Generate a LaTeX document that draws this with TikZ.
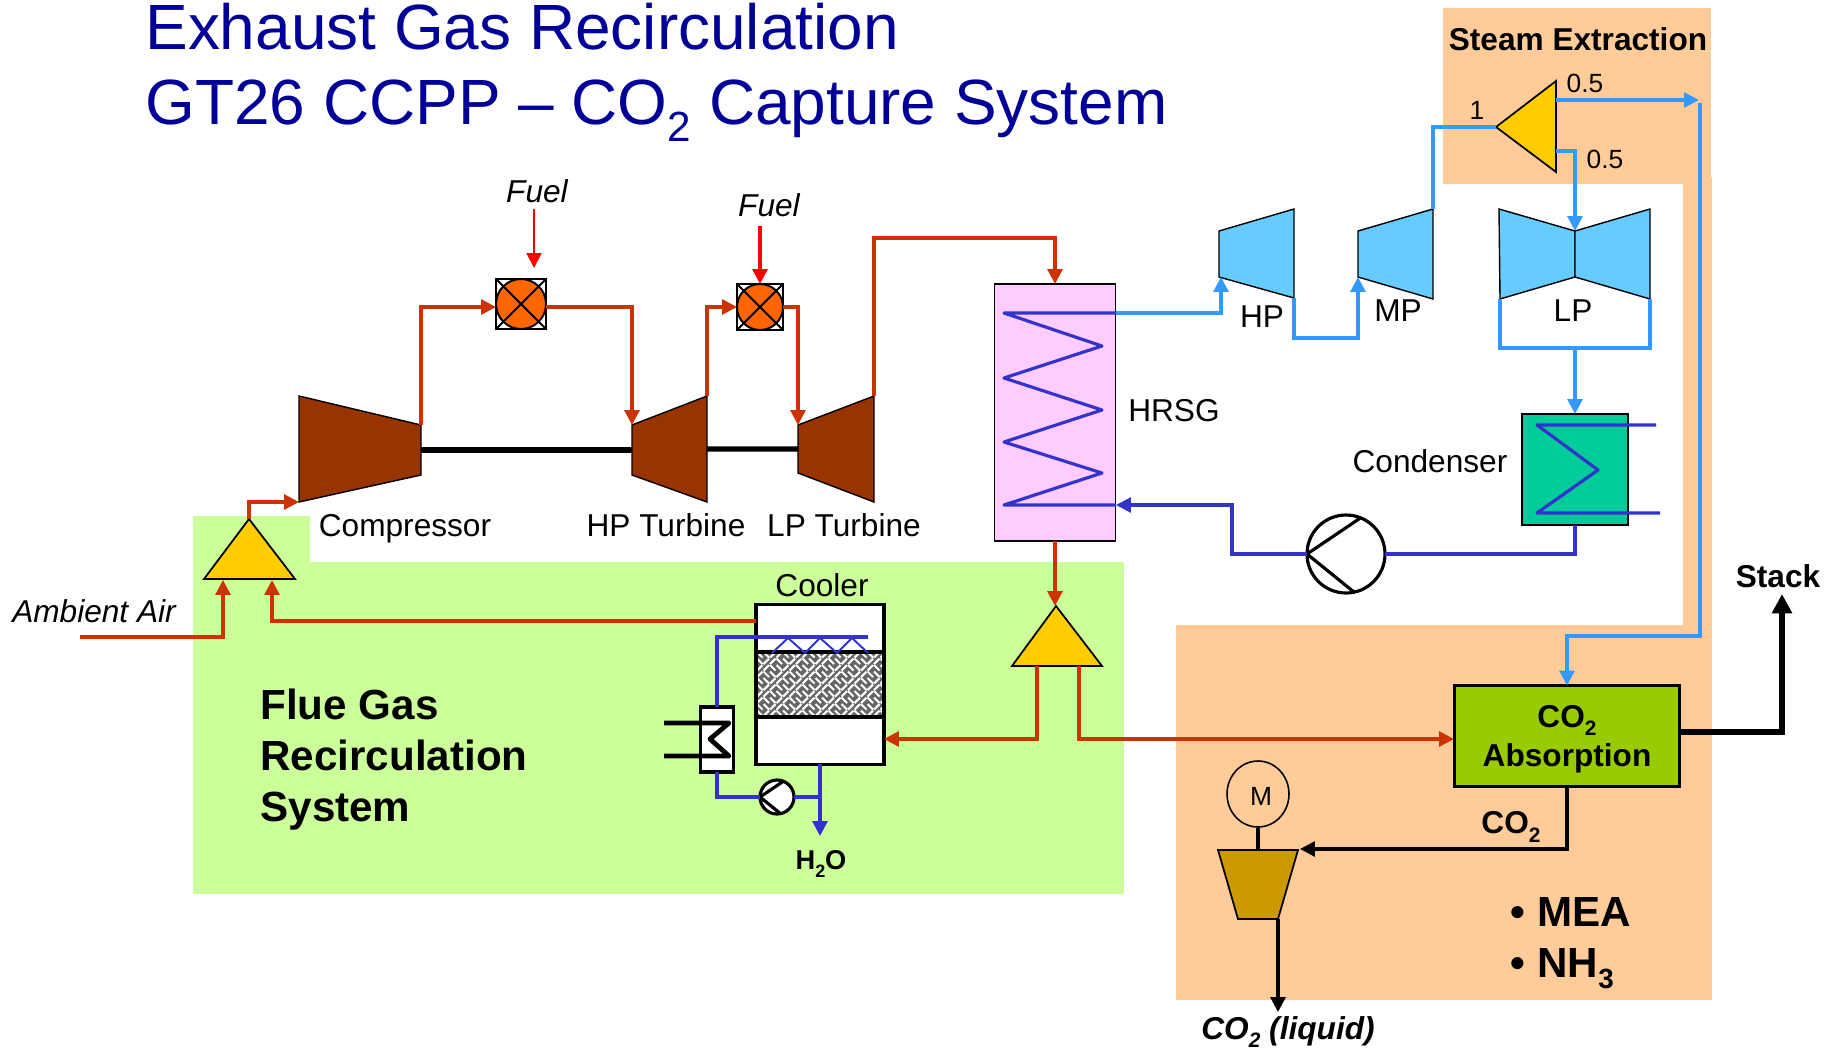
\documentclass[tikz,border=0pt]{standalone}
\usepackage{fontspec}
\setmainfont{Liberation Sans}
\usetikzlibrary{calc,arrows.meta,shapes.geometric}
\definecolor{gasred}{HTML}{CC3300}
\definecolor{steamblue}{HTML}{3399FF}
\definecolor{waterblue}{HTML}{3333CC}
\definecolor{bandorange}{HTML}{FFCC99}
\definecolor{bandgreen}{HTML}{CCFF99}
\definecolor{turbbrown}{HTML}{993300}
\definecolor{turbblue}{HTML}{66CCFF}
\definecolor{teeyellow}{HTML}{FFCC00}
\definecolor{burnorange}{HTML}{FF6600}
\definecolor{titleblue}{HTML}{000099}
\definecolor{boilerpink}{HTML}{FFCCFF}
\definecolor{condgreen}{HTML}{00CC99}
\definecolor{absgreen}{HTML}{99CC00}
\definecolor{pumpbrown}{HTML}{CC9900}
\tikzset{
  >={Triangle[length=8.5pt,width=8.5pt]},
  gas/.style={draw=gasred,line width=1.8pt},
  steam/.style={draw=steamblue,line width=1.8pt},
  water/.style={draw=waterblue,line width=1.8pt},
  fuelline/.style={draw=red,line width=#1},
  blackline/.style={draw=black,line width=#1},
  gasturb/.style={draw=black,line width=.8pt,fill=turbbrown},
  steamturb/.style={draw=black,line width=.8pt,fill=turbblue},
  teejoin/.style={draw=black,line width=1pt,fill=teeyellow},
  burner/.style={draw=black,line width=1.1pt,fill=white,inner sep=0pt,outer sep=0pt,minimum size=#1,
    path picture={
      \fill[burnorange] (path picture bounding box.center) circle (#1/2);
      \draw[line width=1.1pt] (path picture bounding box.center) circle (#1/2);
      \draw[line width=1.1pt] (path picture bounding box.north west) -- (path picture bounding box.south east);
      \draw[line width=1.1pt] (path picture bounding box.north east) -- (path picture bounding box.south west);}},
  pumpbody/.style={circle,draw=black,fill=white,inner sep=0pt,outer sep=0pt,minimum size=#1},
  vessel/.style={draw=black,inner sep=0pt,outer sep=0pt,align=center},
  lab/.style={inner sep=0pt,font=\fontsize{18}{21}\selectfont},
  labb/.style={inner sep=0pt,align=left,font=\bfseries\fontsize{18}{22}\selectfont},
  labi/.style={inner sep=0pt,font=\itshape\fontsize{18}{21}\selectfont},
  small/.style={inner sep=0pt,font=\fontsize{15}{18}\selectfont},
  big/.style={inner sep=0pt,align=left,font=\bfseries\fontsize{24}{29.2}\selectfont},
  headline/.style={inner sep=0pt,anchor=base west,text=titleblue,font=\fontsize{36.4}{42}\selectfont},
}
\newcommand\dn[1]{\raisebox{-.27em}{\scalebox{.66}{#1}}}
% four corner machine: [draw options] (a)(b)(c)(d){name}
\def\machine[#1](#2)(#3)(#4)(#5)#6{
  \draw[#1] (#2) coordinate (#6a) -- (#3) coordinate (#6b) -- (#4) coordinate (#6c) -- (#5) coordinate (#6d) -- cycle; }
\def\tee(#1)(#2)(#3)#4{
  \draw[teejoin] (#1) coordinate (#4a) -- (#2) coordinate (#4b) -- (#3) coordinate (#4c) -- cycle; }
\begin{document}
\begin{tikzpicture}[x=0.02cm,y=-0.02cm]
\useasboundingbox (0,0) rectangle (1839,1049);

% backgrounds
\fill[bandgreen] (193,562) rectangle (1124,894);
\fill[bandgreen] (193,516) rectangle (310,562);
\fill[bandorange] (1443,8) rectangle (1711,184);
\fill[bandorange] (1683,177) rectangle (1712,625);
\fill[bandorange] (1176,625) rectangle (1712,1000);

\node[headline] (titleA) at (145,49) {Exhaust Gas Recirculation};
\node[headline] (titleB) at (145,124) {GT26 CCPP -- CO\dn{2} Capture System};

% gas turbine
\machine[gasturb](299,396)(421,425)(421,475)(299,502){comp}
\machine[gasturb](632,425)(707,396)(707,502)(632,475){hpt}
\machine[gasturb](798,425)(874,396)(874,502)(798,473){lpt}
\draw[blackline=3pt] ($(compb)!.5!(compc)$) -- ($(hpta)!.5!(hptd)$);
\draw[blackline=3pt] ($(hptb)!.5!(hptc)$) -- ($(lpta)!.5!(lptd)$);
\node[burner=1cm] (burnerA) at (521,304) {};
\node[burner=.92cm] (burnerB) at (760,307) {};

\node[lab] (compLab) at (405,529) {Compressor};
\node[lab] (hptLab) at (666,525) {HP Turbine};
\node[lab] (lptLab) at (844,525) {LP Turbine};
\node[labi] (fuelA) at (537,191) {Fuel};
\node[labi] (fuelB) at (769,205) {Fuel};
\node[labi] (airLab) at (94,611) {Ambient Air};

% boiler and steam part
\node[vessel,line width=1pt,fill=boilerpink,minimum width=2.42cm,minimum height=5.14cm] (hrsg) at (1055,412.5) {};
\node[lab] (hrsgLab) at (1174,411) {HRSG};
\machine[steamturb](1219,231)(1294,209)(1294,298)(1219,277){hp}
\machine[steamturb](1358,231)(1433,209)(1433,299)(1358,277){mp}
\machine[steamturb](1499,209)(1575,231)(1575,277)(1500,299){lpl}
\machine[steamturb](1650,209)(1575,231)(1575,277)(1650,299){lpr}
\node[lab] (hpLab) at (1262,317) {HP};
\node[lab] (mpLab) at (1398,311) {MP};
\node[lab] (lpLab) at (1573,311) {LP};
\tee(1496,127)(1556,81)(1556,172){split}
\node[labb] (steamLab) at (1578,39) {Steam Extraction};
\node[small] (splitIn) at (1477,110) {1};
\node[small] (splitUp) at (1585,83) {0.5};
\node[small] (splitDn) at (1605,159) {0.5};
\node[vessel,line width=1.2pt,fill=condgreen,minimum width=2.12cm,minimum height=2.22cm] (cond) at (1575,469.5) {};
\node[lab] (condLab) at (1430,461) {Condenser};
\node[pumpbody=1.56cm,line width=1.8pt] (pumpA) at (1346,554) {};
\draw[blackline=1.8pt] (pumpA.68) -- (pumpA.west) -- (pumpA.-78);

% mixers
\tee(249,519)(204,579)(295,579){mixA}
\tee(1056,606)(1012,666)(1102,666){mixB}

% cooler
\node[vessel,line width=2pt,fill=white,minimum width=2.56cm,minimum height=3.2cm] (cooler) at (820,684.5) {};
\begin{scope}
\clip (757,652) rectangle (884,717);
\fill[black!60] (757,652) rectangle (884,717);
\foreach \i in {0,...,19} \foreach \j in {0,...,10} {
  \pgfmathtruncatemacro\odd{mod(\i+\j,4)}
  \ifnum\odd<2
    \draw[white,line width=1.2pt] ({757+\i*6.5},{652+\j*6.5}) -- ++(5.5,5.5);
  \else
    \draw[white,line width=1.2pt] ({757+\i*6.5},{657.5+\j*6.5}) -- ++(5.5,-5.5);
  \fi
}
\end{scope}
\draw[blackline=2pt] (756,652) rectangle (884,717);
\node[lab] (coolerLab) at (822,585) {Cooler};
\node[vessel,line width=1.8pt,fill=white,minimum width=.66cm,minimum height=1.3cm] (hx) at (717,739.5) {};
\draw[blackline=2.7pt,line join=round] (664,723) -- (729,723) -- (710,739) -- (729,756) -- (664,756);
\node[pumpbody=.68cm,line width=1.8pt] (pumpB) at (777,797) {};
\draw[blackline=1.8pt] (pumpB.68) -- (pumpB.west) -- (pumpB.-78);
\node[inner sep=0pt,font=\bfseries\fontsize{15.5}{18}\selectfont] (waterLab) at (821,864) {H\dn{2}O};
\node[big] (flueLab) at (394,759.5) {Flue Gas\\Recirculation\\System};

% capture part
\node[vessel,line width=2pt,fill=absgreen,minimum width=4.5cm,minimum height=2.02cm] (absorber) at (1567,736) {};
\node[labb,align=center] (absLab) at (1567,739) {CO\dn{2}\\Absorption};
\machine[draw=black,line width=1pt,fill=pumpbrown](1218,850)(1298,850)(1278,919)(1238,919){co2pump}
\node[ellipse,draw=black,line width=.9pt,inner sep=0pt,minimum width=1.24cm,minimum height=1.32cm] (motor) at (1258,794) {};
\node[small] (motorLab) at (1261,796) {M};
\draw[blackline=2.7pt] (motor.south) -- ($(co2pumpa)!.5!(co2pumpb)$);
\node[labb] (co2Lab) at (1511,827) {CO\dn{2}};
\node[big] (solvLab) at (1571,943) {\textbullet\ MEA\\\textbullet\ NH\dn{3}};
\node[labb] (stackLab) at (1778,576) {Stack};
\node[labb,font=\bfseries\itshape\fontsize{18}{21}\selectfont] (liqLab) at (1288,1032) {CO\dn{2} (liquid)};

% junction points
\coordinate (airIn) at (80,637);
\coordinate (mixAl) at (223,580);
\coordinate (mixAr) at (272,580);
\coordinate (coolerOut) at (756,621);
\coordinate (coolerIn) at (884,739);
\coordinate (mixBl) at (1037,666);
\coordinate (mixBr) at (1079,666);
\coordinate (absIn) at (1454,739);
\coordinate (absOut) at (1680,732);
\coordinate (hrsgIn) at (1055,238);
\coordinate (hrsgOut) at (1116,313);
\coordinate (burnerAin) at (496,307);
\coordinate (burnerAout) at (546,307);
\coordinate (fwIn) at (1116,505);
\coordinate (fwBend) at (1232,505);
\coordinate (hpIn) at (1221,277);
\coordinate (hpBus) at (1326,338);
\coordinate (lpBus) at (1575,348);
\coordinate (splitA) at (1556,100);
\coordinate (splitB) at (1556,151);
\coordinate (splitEnd) at (1699,100);
\coordinate (toAbsorb) at (1700,103);
\coordinate (absBend) at (1700,636);
\coordinate (sprayEnd) at (868,637);
\coordinate (waterBus) at (820,797);
\coordinate (waterEnd) at (820,836);
\coordinate (co2In) at (1300,849);
\coordinate (liqEnd) at (1278,1012);
\coordinate (stackEnd) at (1782,594);
\coordinate (fuelAs) at (534,209);
\coordinate (fuelAe) at (534,268);
\coordinate (fuelBs) at (760,226);

% flue gas
\draw[gas,->] (airIn) -| (mixAl);
\draw[gas,->] (coolerOut) -| (mixAr);
\draw[gas,->] (mixAa) |- (compd);
\draw[gas,->] (compb) |- (burnerAin);
\draw[gas,->] (burnerAout) -| (hpta);
\draw[gas,->] (hptb) |- (burnerB.west);
\draw[gas,->] (burnerB.east) -| (lpta);
\draw[gas,->] (lptb) |- (hrsgIn) -- (hrsg.north);
\draw[gas,->] (hrsg.south) -- (hrsg.south |- mixBa);
\draw[gas,->] (mixBl) |- (coolerIn);
\draw[gas,->] (mixBr) |- (absIn);
\draw[fuelline=1.1pt,->] (fuelAs) -- (fuelAe);
\draw[fuelline=1.9pt,->] (fuelBs) -- (burnerB.north);

% steam
\draw[steam,->] (hrsgOut) -| (hpIn);
\draw[steam,->] (hpc) |- (hpBus) -| (mpd);
\draw[steam] (mpb) |- (splita);
\draw[steam,->] (splitA) -- (splitEnd);
\draw[steam,->] (splitB) -| (lplb);
\draw[steam] (lpld) |- (lpBus) -| (lprd);
\draw[steam,->] (lpBus) -- (cond.north);
\draw[steam,->] (toAbsorb) -- (absBend) -| (absorber.north);

% water
\draw[water,line join=round] (hrsgOut) -- (1004,313) -- (1102,346) -- (1004,378) -- (1102,410) -- (1004,442) -- (1102,473) -- (1004,505) -- (fwIn);
\draw[water,line join=round] (1656,425) -- (1537,425) -- (1598,470) -- (1537,513) -- (1660,513);
\draw[water] (cond.south) |- (pumpA.east);
\draw[water,->] (pumpA.west) -| (fwBend) -- (fwIn);
\draw[water] (hx.north) |- (sprayEnd);
\draw[waterblue,line width=1.1pt] (772,653) -- (788,638) -- (805,653) -- (820,638) -- (837,653) -- (852,638) -- (868,653);
\draw[water] (hx.south) |- (pumpB.west);
\draw[water] (pumpB.east) -- (waterBus);
\draw[water,->] (cooler.south) -- (waterEnd);

% capture lines
\draw[blackline=1.8pt,->] (absorber.south) |- (co2In);
\draw[blackline=1.8pt,->] (co2pumpc) -- (liqEnd);
\draw[blackline=3.6pt,>={Triangle[length=11pt,width=11pt]},->] (absOut) -| (stackEnd);

\end{tikzpicture}
\end{document}
